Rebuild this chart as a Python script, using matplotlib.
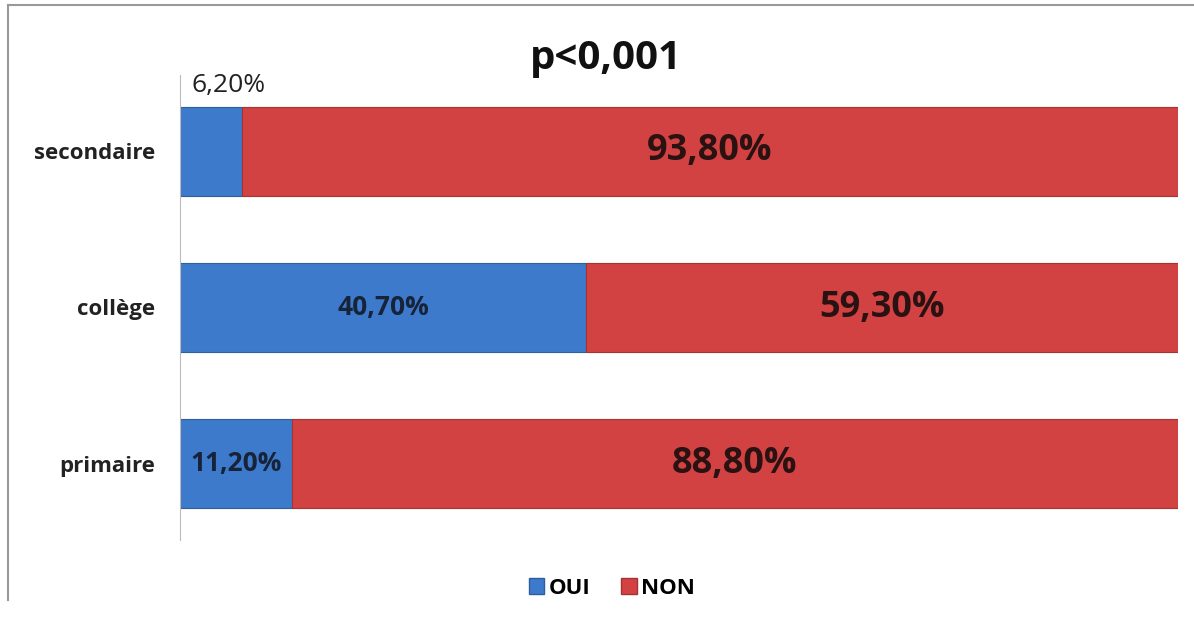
import matplotlib
matplotlib.use("Agg")
import matplotlib.pyplot as plt
from matplotlib.patches import Patch
from matplotlib.lines import Line2D

categories = ["primaire", "collège", "secondaire"]
oui = [11.2, 40.7, 6.2]
non = [88.8, 59.3, 93.8]
oui_labels = ["11,20%", "40,70%", "6,20%"]
non_labels = ["88,80%", "59,30%", "93,80%"]
series_names = ["OUI", "NON"]
title = "p<0,001"

blue = "#3d7acb"
red = "#d24242"
plt.rcParams['font.family'] = ['Open Sans', 'DejaVu Sans']

fig = plt.figure(figsize=(11.94, 6.25), dpi=100)
ax = fig.add_axes([180/1194, 1-540/625, (1178-180)/1194, (540-75)/625])

y = list(range(len(categories)))
h = 0.57
ax.barh(y, oui, height=h, color=blue, edgecolor="#2d5f9f", linewidth=0.8)
ax.barh(y, non, left=oui, height=h, color=red, edgecolor="#a83232", linewidth=0.8)

for i in y:
    ax.text(oui[i] + non[i] / 2, i, non_labels[i], ha="center", va="center",
            fontsize=26, fontweight="bold", color="#2a1212")
    if oui[i] > 9:
        ax.text(oui[i] / 2, i, oui_labels[i], ha="center", va="center",
                fontsize=19, fontweight="bold", color="#172338")
    else:
        ax.text(1.2, i + h / 2 + 0.06, oui_labels[i], ha="left", va="bottom",
                fontsize=19, color="#222222")

ax.set_xlim(0, 100)
ax.set_ylim(-0.49, 2.49)
ax.set_yticks(y)
ax.set_yticklabels(categories, fontsize=16, fontweight="bold", color="#222222")
ax.tick_params(axis="y", length=0, pad=18)
ax.set_xticks([])
for s in ["top", "right", "bottom"]:
    ax.spines[s].set_visible(False)
ax.spines["left"].set_color("#bbbbbb")

fig.text(606/1194, 1-58/625, title, ha="center", va="center",
         fontsize=29, fontweight="bold", color="#111111")

handles = [Patch(facecolor=blue, edgecolor="#2d5f9f"), Patch(facecolor=red, edgecolor="#a83232")]
fig.legend(handles, series_names, loc="center", bbox_to_anchor=(612/1194, 1-588/625),
           ncol=2, frameon=False, handlelength=0.7, handleheight=0.7,
           handletextpad=0.2, columnspacing=1.4, prop={"weight": "bold", "size": 16})

# outer frame lines
fig.add_artist(Line2D([8/1194, 1], [1-5/625, 1-5/625], color="#999999", lw=1.5, transform=fig.transFigure))
fig.add_artist(Line2D([8/1194, 8/1194], [1-5/625, 1-600/625], color="#999999", lw=1.5, transform=fig.transFigure))

fig.savefig("out.png", dpi=100)
